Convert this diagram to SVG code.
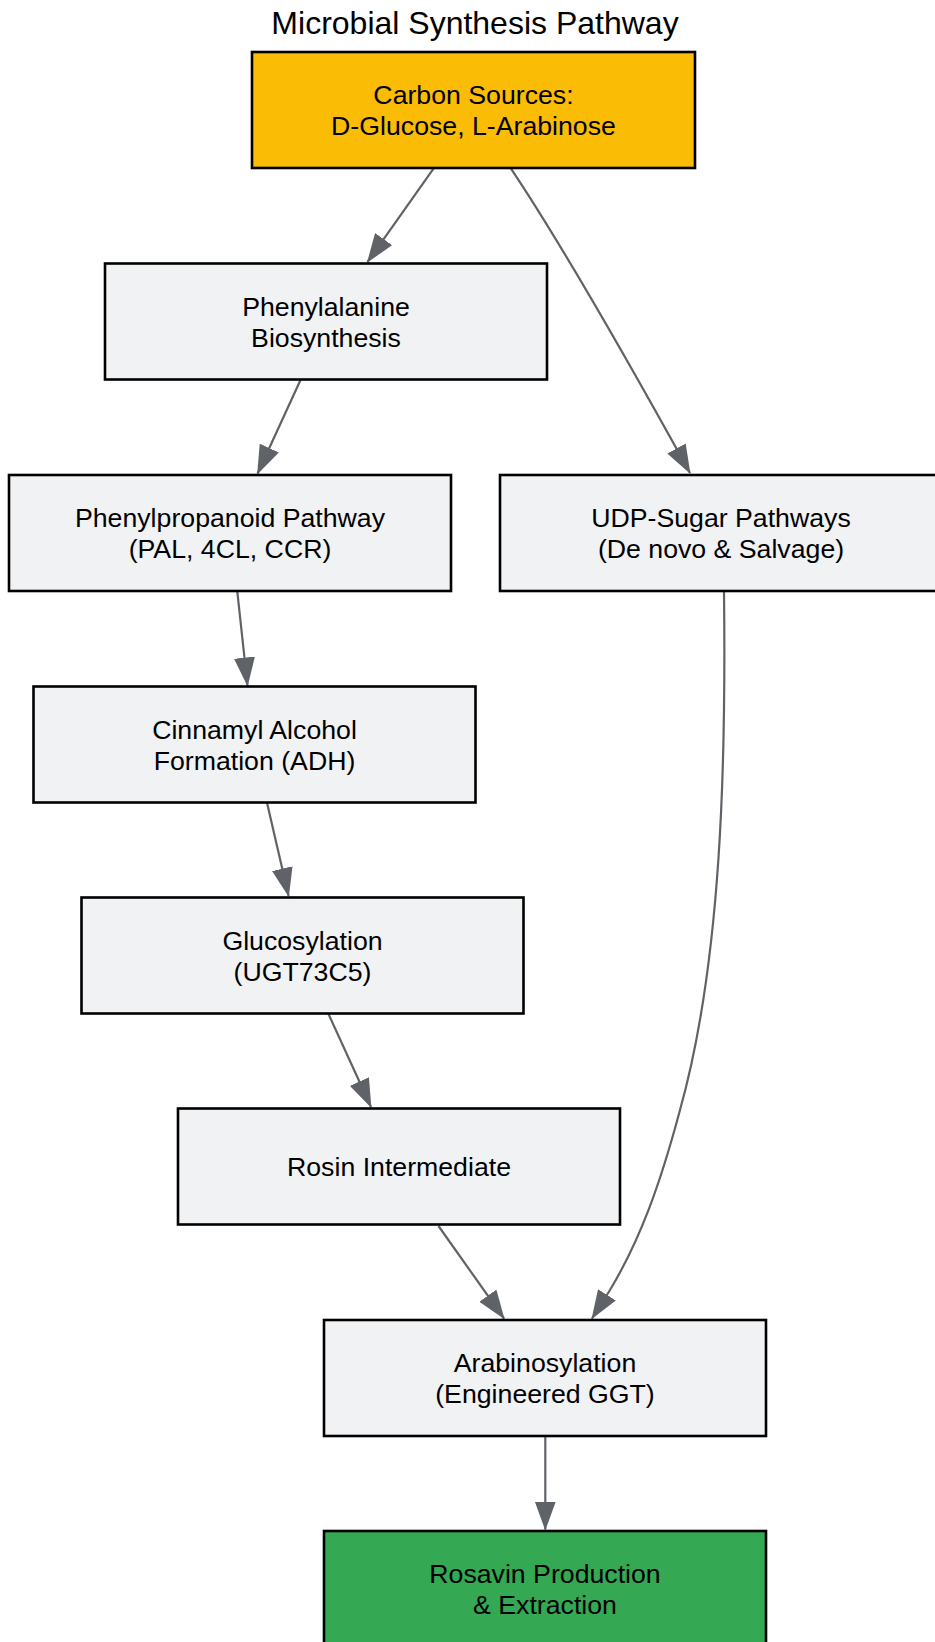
<svg xmlns="http://www.w3.org/2000/svg" width="935" height="1642" viewBox="0 0 935 1642">
<style>
.node rect{fill:#f1f2f4;stroke:#000;stroke-width:2.6}
.node text{font-family:"Liberation Sans",Arial,sans-serif;font-size:26.7px;fill:#000;text-anchor:middle}
.title{font-family:"Liberation Sans",Arial,sans-serif;font-size:32px;fill:#000;text-anchor:middle}
.edge{fill:none;stroke:#5f6368;stroke-width:2.2;marker-end:url(#arrow)}
</style>
<defs>
<marker id="arrow" markerUnits="userSpaceOnUse" markerWidth="29" markerHeight="21" viewBox="0 0 29 21" refX="28" refY="10.5" orient="auto">
<path d="M0,0 L29,10.5 L0,21 z" fill="#5f6368"/>
</marker>
</defs>
<rect width="935" height="1642" fill="#fff"/>
<text class="title" x="475" y="33.5">Microbial Synthesis Pathway</text>
<g id="edges">
<path class="edge" d="M433.5,168.6 L367.5,262"/>
<path class="edge" d="M511,168.6 C540,212 600,310 690,473"/>
<path class="edge" d="M300.5,380 L257.6,473.5"/>
<path class="edge" d="M237.3,591.7 L247.5,685.5"/>
<path class="edge" d="M267,802.7 L288.6,896"/>
<path class="edge" d="M328.5,1014 L371,1107"/>
<path class="edge" d="M438.5,1226 L504,1318.5"/>
<path class="edge" d="M724,592 C726,760 722,960 680,1110 C660,1185 640,1240 610,1290 L592,1318.5"/>
<path class="edge" d="M545.3,1436 L545.3,1529.5"/>
</g>
<g id="carbon" class="node">
<rect x="252" y="52" width="443" height="116" style="fill:#fbbc05"/>
<text x="473.5" y="104">Carbon Sources:</text>
<text x="473.5" y="135">D-Glucose, L-Arabinose</text>
</g>
<g id="phenylalanine" class="node">
<rect x="105" y="263.5" width="442" height="116"/>
<text x="326" y="315.5">Phenylalanine</text>
<text x="326" y="346.5">Biosynthesis</text>
</g>
<g id="phenylpropanoid" class="node">
<rect x="9" y="475" width="442" height="116"/>
<text x="230" y="527">Phenylpropanoid Pathway</text>
<text x="230" y="558">(PAL, 4CL, CCR)</text>
</g>
<g id="udp" class="node">
<rect x="500" y="475" width="442" height="116"/>
<text x="721" y="527">UDP-Sugar Pathways</text>
<text x="721" y="558">(De novo &amp; Salvage)</text>
</g>
<g id="cinnamyl" class="node">
<rect x="33.5" y="686.5" width="442" height="116"/>
<text x="254.5" y="738.5">Cinnamyl Alcohol</text>
<text x="254.5" y="769.5">Formation (ADH)</text>
</g>
<g id="glucosylation" class="node">
<rect x="81.5" y="897.5" width="442" height="116"/>
<text x="302.5" y="949.5">Glucosylation</text>
<text x="302.5" y="980.5">(UGT73C5)</text>
</g>
<g id="rosin" class="node">
<rect x="178" y="1108.5" width="442" height="116"/>
<text x="399" y="1176">Rosin Intermediate</text>
</g>
<g id="arabinosylation" class="node">
<rect x="324" y="1320" width="442" height="116"/>
<text x="545" y="1372">Arabinosylation</text>
<text x="545" y="1403">(Engineered GGT)</text>
</g>
<g id="rosavin" class="node">
<rect x="324" y="1531" width="442" height="116" style="fill:#34a853"/>
<text x="545" y="1583">Rosavin Production</text>
<text x="545" y="1614">&amp; Extraction</text>
</g>
</svg>
